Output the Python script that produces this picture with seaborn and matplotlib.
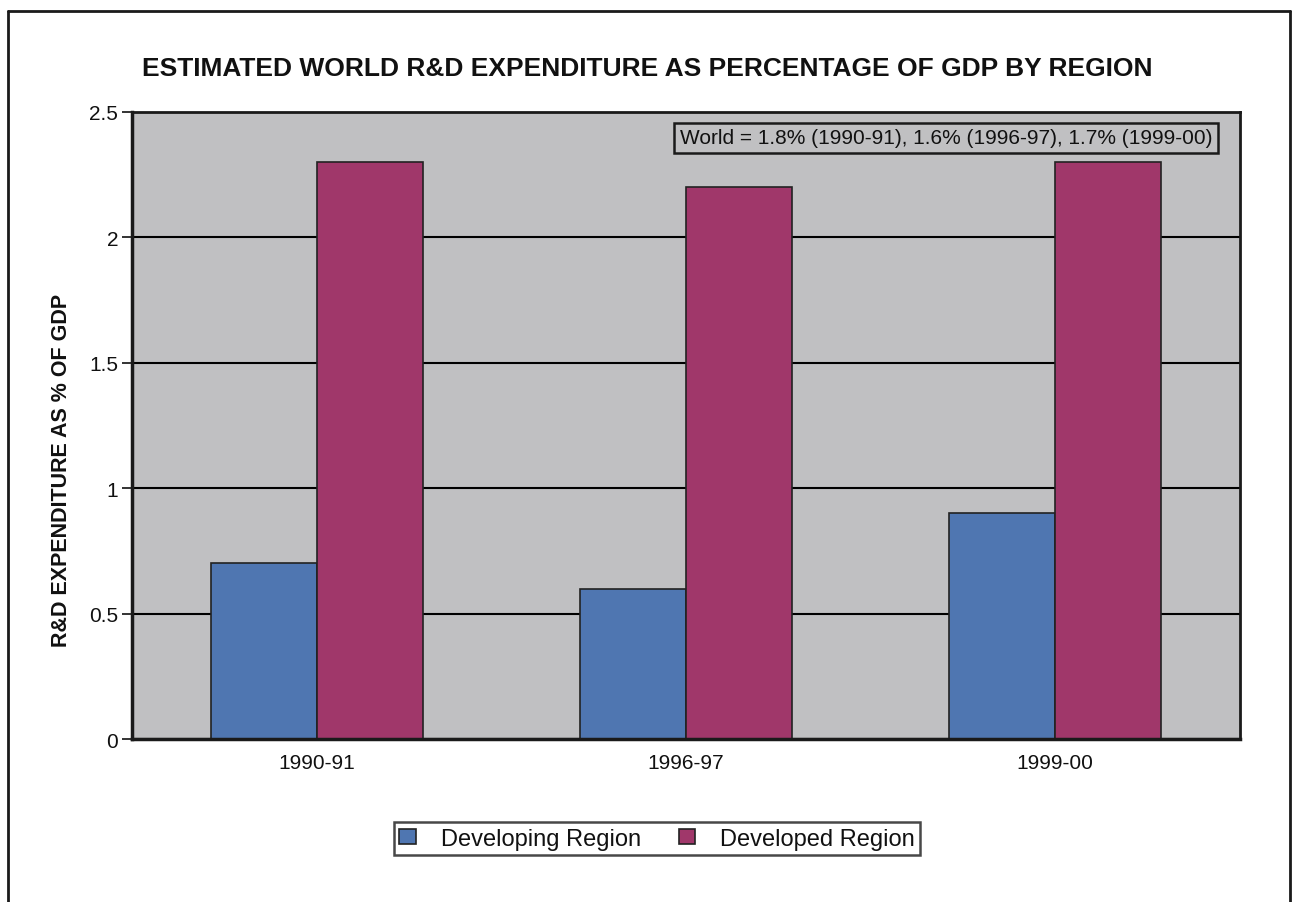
import pandas as pd
import seaborn as sns
import matplotlib.pyplot as plt
from matplotlib.lines import Line2D

# data
periods = ["1990-91", "1996-97", "1999-00"]
developing = [0.7, 0.6, 0.9]
developed = [2.3, 2.2, 2.3]
regions = ["Developing Region", "Developed Region"]
yticks = [0, 0.5, 1, 1.5, 2, 2.5]
ytick_labels = ["0", "0.5", "1", "1.5", "2", "2.5"]
title = "ESTIMATED WORLD R&D EXPENDITURE AS PERCENTAGE OF GDP BY REGION"
ylabel = "R&D EXPENDITURE AS % OF GDP"
note = "World = 1.8% (1990-91), 1.6% (1996-97), 1.7% (1999-00)"

df = pd.DataFrame({
    "period": periods * 2,
    "value": developing + developed,
    "region": [regions[0]] * 3 + [regions[1]] * 3,
})

sns.set_style("white")
plt.rcParams["font.family"] = ["Liberation Sans", "DejaVu Sans"]
plt.rcParams["text.color"] = "#111111"
plt.rcParams["axes.labelcolor"] = "#111111"
plt.rcParams["xtick.color"] = "#111111"
plt.rcParams["ytick.color"] = "#111111"

fig = plt.figure(figsize=(12.94, 9.03), dpi=100)
ax = fig.add_axes([0.102, 0.1805, 0.856, 0.6944])
ax.set_facecolor("#C0C0C2")

sns.barplot(data=df, x="period", y="value", hue="region", order=periods,
            hue_order=regions, palette=["#4F76B1", "#A0376A"], saturation=1,
            width=0.574, edgecolor="#222222", linewidth=1.2, ax=ax, zorder=3)

ax.set_xlim(-0.5, 2.5)
ax.set_ylim(0, 2.5)
ax.set_yticks(yticks)
ax.set_yticklabels(ytick_labels)
ax.yaxis.grid(True, color="black", linewidth=1.5, zorder=1)
ax.set_axisbelow(True)
ax.tick_params(axis="y", direction="out", length=7, width=1.2,
               labelsize=15, pad=3, left=True)
ax.tick_params(axis="x", length=0, labelsize=15, pad=10)
ax.set_xlabel("")
ax.set_ylabel(ylabel, fontsize=15.5, fontweight="bold")
# label sits a bit below the axes centre in the reference
ax.yaxis.set_label_coords(-0.064, 0.4306)
ax.yaxis.label.set_verticalalignment("center")
for side in ["left", "bottom"]:
    ax.spines[side].set_linewidth(2.5)
for side in ["top", "right"]:
    ax.spines[side].set_linewidth(2)
for s in ax.spines.values():
    s.set_color("#1a1a1a")
    s.set_zorder(5)

ax.text(0.9756, 0.9585, note, transform=ax.transAxes, ha="right", va="center",
        fontsize=15, zorder=6,
        bbox=dict(boxstyle="square,pad=0.27", facecolor="#C0C0C2",
                  edgecolor="#1a1a1a", linewidth=1.8))

fig.text(0.5, 0.924, title, ha="center", va="center", fontsize=19,
         fontweight="bold")

handles, labels = ax.get_legend_handles_labels()
ax.get_legend().remove()
leg = fig.legend(handles, labels, loc="center", bbox_to_anchor=(0.5077, 0.0703),
                 ncol=2, fontsize=17, frameon=True, fancybox=False,
                 edgecolor="#1a1a1a", handlelength=0.7, handleheight=0.6,
                 columnspacing=1.6, handletextpad=1.05, borderpad=0.22,
                 borderaxespad=0)
leg.get_frame().set_linewidth(1.8)

# border around the figure (left, top, right)
fig.add_artist(Line2D([0.0062, 0.0062], [0, 0.9867], color="#1a1a1a", lw=2))
fig.add_artist(Line2D([0.0062, 0.9969], [0.9867, 0.9867], color="#1a1a1a", lw=2))
fig.add_artist(Line2D([0.9969, 0.9969], [0, 0.9867], color="#1a1a1a", lw=2))

fig.savefig("out.png", dpi=100)
